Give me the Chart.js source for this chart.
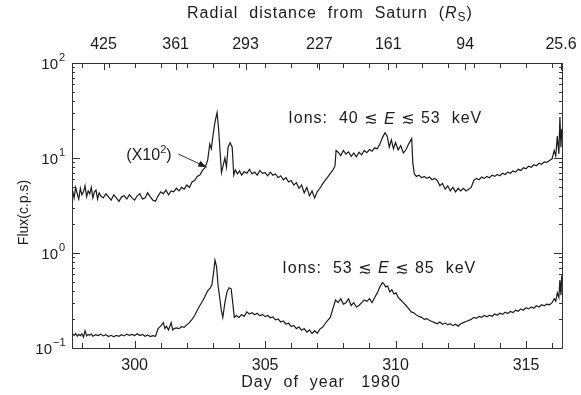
<!DOCTYPE html>
<html>
<head>
<meta charset="utf-8">
<script src="https://cdn.jsdelivr.net/npm/chart.js@4/dist/chart.umd.min.js"></script>
<style>
  body { margin: 0; background: #fff; }
  #wrap { width: 581px; height: 395px; }
</style>
</head>
<body>
<div id="wrap"><canvas id="flux" width="581" height="395"></canvas></div>
<script>
// Voyager ion flux, day of year 1980 (upper trace already multiplied by 100)
var upperDays = [
  297.62, 297.68, 297.74, 297.80, 297.86, 297.92, 297.98, 298.04, 298.10, 298.16,
  298.22, 298.28, 298.34, 298.40, 298.46, 298.52, 298.58, 298.64, 298.70, 298.80,
  298.90, 299.00, 299.10, 299.20, 299.30, 299.40, 299.50, 299.60, 299.70, 299.80,
  299.90, 300.00, 300.10, 300.20, 300.30, 300.40, 300.50, 300.60, 300.70, 300.80,
  300.90, 301.00, 301.10, 301.20, 301.30, 301.40, 301.50, 301.60, 301.70, 301.80,
  301.90, 302.00, 302.10, 302.20, 302.30, 302.40, 302.50, 302.60, 302.70, 302.80,
  302.88, 302.94, 303.00, 303.08, 303.16, 303.22, 303.28, 303.33, 303.40, 303.46,
  303.52, 303.58, 303.66, 303.74, 303.80, 303.86, 303.94, 304.02, 304.10, 304.20,
  304.30, 304.40, 304.50, 304.60, 304.70, 304.80, 304.90, 305.00, 305.10, 305.20,
  305.30, 305.40, 305.50, 305.60, 305.70, 305.80, 305.90, 306.00, 306.10, 306.20,
  306.30, 306.40, 306.50, 306.60, 306.70, 306.80, 306.90, 307.00, 307.10, 307.20,
  307.30, 307.40, 307.50, 307.60, 307.68, 307.72, 307.80, 307.90, 308.00, 308.10,
  308.20, 308.30, 308.40, 308.50, 308.60, 308.70, 308.80, 308.90, 309.00, 309.10,
  309.20, 309.30, 309.40, 309.50, 309.60, 309.68, 309.76, 309.84, 309.92, 310.00,
  310.10, 310.20, 310.30, 310.40, 310.50, 310.62, 310.66, 310.72, 310.80, 310.90,
  311.00, 311.10, 311.20, 311.30, 311.40, 311.50, 311.60, 311.70, 311.80, 311.90,
  312.00, 312.10, 312.20, 312.30, 312.40, 312.50, 312.60, 312.70, 312.80, 312.90,
  313.00, 313.10, 313.20, 313.30, 313.40, 313.50, 313.60, 313.70, 313.80, 313.90,
  314.00, 314.10, 314.20, 314.30, 314.40, 314.50, 314.60, 314.70, 314.80, 314.90,
  315.00, 315.10, 315.20, 315.30, 315.40, 315.50, 315.60, 315.70, 315.80, 315.90,
  316.00, 316.08, 316.14, 316.20, 316.26, 316.30, 316.34, 316.37
];
var upperFlux = [
  4.6, 3.8, 4.9, 4.2, 3.7, 4.8, 4.1, 4.4, 5.1, 3.9,
  4.5, 4.2, 4.9, 3.8, 4.4, 4.6, 3.7, 4.3, 4.0, 3.8,
  4.2, 3.9, 3.6, 4.1, 3.8, 3.5, 3.9, 4.0, 3.7, 4.1,
  3.8, 3.6, 4.0, 4.2, 3.7, 3.8, 4.3, 3.9, 3.6, 3.5,
  4.0, 4.4, 4.2, 4.6, 4.1, 4.5, 4.4, 4.8, 4.5, 4.9,
  4.7, 5.2, 4.9, 5.6, 5.8, 6.4, 6.6, 7.4, 7.9, 9.5,
  14, 12.5, 17, 24, 30, 20, 11, 7.0, 8.5, 10,
  8.0, 13, 14.5, 13, 6.6, 7.5, 6.8, 7.3, 6.6, 7.2,
  6.9, 7.6, 6.8, 7.1, 6.6, 7.4, 6.9, 7.0, 6.5, 7.1,
  6.6, 6.8, 6.2, 6.5, 5.9, 6.2, 5.6, 5.8, 5.2, 5.5,
  4.8, 5.2, 4.3, 4.9, 4.0, 4.5, 3.8, 4.4, 4.8, 5.3,
  5.8, 6.3, 6.9, 7.5, 8.2, 12, 11.5, 10.6, 12.0, 11.0,
  11.6, 10.4, 11.3, 10.3, 11.5, 10.8, 12.0, 11.4, 12.3, 11.8,
  12.8, 12.5, 14.0, 16.5, 18.5, 17, 13, 15.5, 12.5, 14.5,
  12.2, 13.5, 11.3, 12.2, 14.0, 16.0, 9.0, 6.8, 6.4, 6.6,
  6.2, 6.4, 6.1, 6.3, 5.9, 6.1, 5.8, 5.1, 5.4, 4.7,
  5.1, 4.5, 4.9, 4.4, 4.8, 4.5, 4.8, 4.5, 4.7, 4.9,
  5.8, 6.1, 5.9, 6.3, 6.1, 6.4, 6.2, 6.6, 6.4, 6.7,
  6.5, 6.9, 6.7, 7.1, 6.9, 7.3, 7.1, 7.6, 7.4, 7.9,
  7.7, 8.2, 8.0, 8.5, 8.3, 8.8, 8.6, 9.1, 9.0, 9.4,
  9.8, 12, 10.5, 17, 11, 27, 13, 20
];

var lowerDays = [
  297.62, 297.68, 297.74, 297.80, 297.86, 297.92, 297.98, 298.04, 298.10, 298.16,
  298.22, 298.28, 298.34, 298.40, 298.50, 298.60, 298.70, 298.80, 298.90, 299.00,
  299.10, 299.20, 299.30, 299.40, 299.50, 299.60, 299.70, 299.80, 299.90, 300.00,
  300.10, 300.20, 300.30, 300.40, 300.50, 300.60, 300.70, 300.80, 300.90, 301.00,
  301.10, 301.16, 301.22, 301.30, 301.40, 301.46, 301.52, 301.60, 301.70, 301.80,
  301.90, 302.00, 302.10, 302.20, 302.30, 302.40, 302.50, 302.60, 302.70, 302.80,
  302.90, 302.96, 303.02, 303.08, 303.14, 303.20, 303.26, 303.32, 303.38, 303.46,
  303.54, 303.62, 303.70, 303.76, 303.82, 303.90, 304.00, 304.10, 304.20, 304.30,
  304.40, 304.50, 304.60, 304.70, 304.80, 304.90, 305.00, 305.10, 305.20, 305.30,
  305.40, 305.50, 305.60, 305.70, 305.80, 305.90, 306.00, 306.10, 306.20, 306.30,
  306.40, 306.50, 306.60, 306.70, 306.80, 306.90, 307.00, 307.10, 307.20, 307.30,
  307.40, 307.50, 307.60, 307.70, 307.80, 307.90, 308.00, 308.10, 308.20, 308.30,
  308.40, 308.50, 308.60, 308.70, 308.80, 308.90, 309.00, 309.10, 309.20, 309.30,
  309.40, 309.50, 309.56, 309.62, 309.70, 309.78, 309.86, 309.94, 310.02, 310.10,
  310.20, 310.30, 310.40, 310.50, 310.60, 310.70, 310.80, 310.90, 311.00, 311.10,
  311.20, 311.30, 311.40, 311.50, 311.60, 311.70, 311.80, 311.90, 312.00, 312.10,
  312.20, 312.30, 312.40, 312.50, 312.60, 312.70, 312.80, 312.90, 313.00, 313.10,
  313.20, 313.30, 313.40, 313.50, 313.60, 313.70, 313.80, 313.90, 314.00, 314.10,
  314.20, 314.30, 314.40, 314.50, 314.60, 314.70, 314.80, 314.90, 315.00, 315.10,
  315.20, 315.30, 315.40, 315.50, 315.60, 315.70, 315.80, 315.90, 316.00, 316.08,
  316.14, 316.20, 316.26, 316.30, 316.34, 316.37
];
var lowerFlux = [
  0.14, 0.136, 0.142, 0.133, 0.139, 0.135, 0.141, 0.13, 0.152, 0.134,
  0.139, 0.136, 0.141, 0.133, 0.138, 0.135, 0.14, 0.134, 0.138, 0.132,
  0.136, 0.131, 0.136, 0.133, 0.138, 0.134, 0.14, 0.136, 0.139, 0.135,
  0.141, 0.135, 0.139, 0.133, 0.137, 0.132, 0.135, 0.133, 0.16, 0.17,
  0.185, 0.16, 0.17, 0.155, 0.185, 0.155, 0.16, 0.163, 0.16, 0.168,
  0.165, 0.175, 0.185, 0.2, 0.22, 0.25, 0.28, 0.31, 0.35, 0.4,
  0.43, 0.46, 0.6, 0.84, 0.72, 0.45, 0.34, 0.25, 0.21, 0.3,
  0.39, 0.43, 0.42, 0.3, 0.21, 0.22, 0.21, 0.225, 0.215, 0.24,
  0.228, 0.235, 0.224, 0.232, 0.218, 0.226, 0.214, 0.22, 0.208, 0.212,
  0.198, 0.202, 0.188, 0.193, 0.178, 0.183, 0.168, 0.173, 0.16, 0.166,
  0.154, 0.16, 0.147, 0.155, 0.142, 0.152, 0.143, 0.158, 0.165, 0.18,
  0.195, 0.21, 0.26, 0.32, 0.3, 0.33, 0.29, 0.3, 0.33, 0.28,
  0.3, 0.27, 0.28, 0.3, 0.32, 0.31, 0.33, 0.3, 0.34, 0.38,
  0.44, 0.49, 0.47, 0.44, 0.45, 0.39, 0.41, 0.37, 0.38, 0.34,
  0.32, 0.3, 0.28, 0.26, 0.24, 0.235, 0.222, 0.215, 0.21, 0.2,
  0.204, 0.195, 0.19, 0.185, 0.18, 0.188, 0.178, 0.183, 0.175, 0.18,
  0.172, 0.178, 0.17, 0.18, 0.185, 0.19, 0.195, 0.2, 0.21, 0.205,
  0.215, 0.21, 0.22, 0.213, 0.222, 0.216, 0.228, 0.221, 0.232, 0.226,
  0.238, 0.231, 0.242, 0.236, 0.25, 0.244, 0.258, 0.25, 0.265, 0.258,
  0.27, 0.262, 0.278, 0.27, 0.285, 0.278, 0.29, 0.285, 0.3, 0.33,
  0.31, 0.38, 0.34, 0.52, 0.36, 0.58
];

var dayMin = 297.6, dayMax = 316.38;
var bottomTickDays = [298, 299, 300, 301, 302, 303, 304, 305, 306, 307, 308, 309, 310, 311, 312, 313, 314, 315, 316];
var bottomLabelDays = [300, 305, 310, 315];
var topTickDays = [298.81, 301.57, 304.25, 307.08, 309.72, 312.67, 316.34];
var topTickLabels = ['425', '361', '293', '227', '161', '94', '25.6'];
var fluxTicks = [0.1, 1, 10, 100];
var fluxExponents = ['\u22121', '0', '1', '2'];

var FONT = '"Liberation Sans", Arial, "DejaVu Sans", sans-serif';
var INK = '#1c1c1c';

function toPoints( days, flux )
{
    return days.map( function( d, i ) { return { x: d, y: flux[ i ] }; } );
}

// draws a row of text pieces, each with its own font, starting at x
function drawRuns( ctx, x, y, runs )
{
    ctx.textAlign = 'left';
    runs.forEach( function( r ) {
        ctx.font = r.font;
        ctx.fillText( r.text, x, y + ( r.dy || 0 ) );
        x += ctx.measureText( r.text ).width;
    } );
    return x;
}

function runsWidth( ctx, runs )
{
    var w = 0;
    runs.forEach( function( r ) { ctx.font = r.font; w += ctx.measureText( r.text ).width; } );
    return w;
}

var frame = {
    id: 'frame',
    afterDraw: function( chart )
    {
        var ctx = chart.ctx, a = chart.chartArea;
        var xs = chart.scales.x, ys = chart.scales.y;
        ctx.save();
        ctx.strokeStyle = '#333';
        ctx.lineWidth = 1;

        // right border
        ctx.beginPath();
        ctx.moveTo( a.right + 0.5, a.top );
        ctx.lineTo( a.right + 0.5, a.bottom );
        ctx.stroke();

        // inward ticks, bottom and top
        ctx.beginPath();
        bottomTickDays.forEach( function( d ) {
            var px = Math.round( xs.getPixelForValue( d ) ) + 0.5;
            var len = bottomLabelDays.indexOf( d ) >= 0 ? 7 : 5;
            ctx.moveTo( px, a.bottom ); ctx.lineTo( px, a.bottom - len );
            ctx.moveTo( px, a.top ); ctx.lineTo( px, a.top + 5 );
        } );
        topTickDays.forEach( function( d ) {
            var px = Math.round( xs.getPixelForValue( d ) ) + 0.5;
            ctx.moveTo( px, a.top ); ctx.lineTo( px, a.top + 7 );
        } );

        // log ticks, left and right
        fluxTicks.forEach( function( v, k ) {
            var py = Math.round( ys.getPixelForValue( v ) ) + 0.5;
            ctx.moveTo( a.left, py ); ctx.lineTo( a.left + 8, py );
            ctx.moveTo( a.right, py ); ctx.lineTo( a.right - 8, py );
            if ( k === fluxTicks.length - 1 ) return;
            for ( var m = 2; m <= 9; m++ ) {
                var my = Math.round( ys.getPixelForValue( v * m ) ) + 0.5;
                ctx.moveTo( a.left, my ); ctx.lineTo( a.left + 3, my );
                ctx.moveTo( a.right, my ); ctx.lineTo( a.right - 3, my );
            }
        } );
        ctx.stroke();

        ctx.fillStyle = INK;
        ctx.textBaseline = 'middle';

        // y tick labels as 10 with a raised exponent
        fluxTicks.forEach( function( v, k ) {
            var py = ys.getPixelForValue( v ) + 2;
            ctx.font = '15px ' + FONT;
            ctx.textAlign = 'right';
            var baseRight = a.left - ( k === 0 ? 20 : 14 );
            ctx.fillText( '10', baseRight, py );
            ctx.textAlign = 'left';
            ctx.font = '11px ' + FONT;
            ctx.fillText( fluxExponents[ k ], baseRight + 1, py - 7 );
        } );

        // y axis title
        ctx.save();
        ctx.translate( 24, ( a.top + a.bottom ) / 2 + 7 );
        ctx.rotate( -Math.PI / 2 );
        ctx.textAlign = 'center';
        ctx.font = '14px ' + FONT;
        ctx.fillText( 'Flux(c.p.s)', 0, 0 );
        ctx.restore();

        // x axis titles, spaced out like the print
        ctx.letterSpacing = '1px';
        ctx.textAlign = 'center';
        ctx.font = '16px ' + FONT;
        ctx.fillText( 'Day  of  year   1980', 321, 383 );

        var topRuns = [
            { text: 'Radial  distance  from  Saturn  (', font: '16px ' + FONT },
            { text: 'R', font: 'italic 16px ' + FONT },
            { text: 'S', font: '12px ' + FONT, dy: 4 },
            { text: ')', font: '16px ' + FONT }
        ];
        drawRuns( ctx, 330 - runsWidth( ctx, topRuns ) / 2, 14, topRuns );

        // curve labels, anchored in data units
        var normal = '16px ' + FONT, ital = 'italic 16px ' + FONT;
        function ionLabel( day, flux, lo, hi )
        {
            var x = xs.getPixelForValue( day ), y = ys.getPixelForValue( flux );
            drawRuns( ctx, x, y, [
                { text: 'Ions:  ' + lo + ' ', font: normal },
                { text: '\u2272', font: normal },
                { text: ' E ', font: ital },
                { text: '\u2272', font: normal },
                { text: ' ' + hi + '  keV', font: normal }
            ] );
        }
        ionLabel( 305.89, 25.7, '40', '53' );
        ionLabel( 305.66, 0.68, '53', '85' );
        ctx.letterSpacing = '0px';

        // (X10^2) marker with arrow onto the upper trace
        var tx = xs.getPixelForValue( 300.55 ), ty = ys.getPixelForValue( 10.5 );
        var markRuns = [
            { text: '(X10', font: normal },
            { text: '2', font: '11px ' + FONT, dy: -6 },
            { text: ')', font: normal }
        ];
        drawRuns( ctx, tx - runsWidth( ctx, markRuns ) / 2, ty, markRuns );

        var ax0 = xs.getPixelForValue( 301.68 ), ay0 = ys.getPixelForValue( 11.0 );
        var ax1 = xs.getPixelForValue( 302.76 ), ay1 = ys.getPixelForValue( 8.0 );
        ctx.beginPath();
        ctx.moveTo( ax0, ay0 ); ctx.lineTo( ax1, ay1 );
        ctx.stroke();
        var ang = Math.atan2( ay1 - ay0, ax1 - ax0 );
        ctx.beginPath();
        ctx.moveTo( ax1, ay1 );
        ctx.lineTo( ax1 - 9 * Math.cos( ang - 0.35 ), ay1 - 9 * Math.sin( ang - 0.35 ) );
        ctx.lineTo( ax1 - 9 * Math.cos( ang + 0.35 ), ay1 - 9 * Math.sin( ang + 0.35 ) );
        ctx.closePath();
        ctx.fill();

        ctx.restore();
    }
};

var lineStyle = { borderColor: INK, borderWidth: 1.2, pointRadius: 0, tension: 0, fill: false };

var ctx = document.getElementById( 'flux' ).getContext( '2d' );
var chart = new Chart( ctx, {
    type: 'line',
    data: {
        datasets: [
            Object.assign( { label: 'Ions 40-53 keV (x100)', data: toPoints( upperDays, upperFlux ) }, lineStyle ),
            Object.assign( { label: 'Ions 53-85 keV', data: toPoints( lowerDays, lowerFlux ) }, lineStyle )
        ]
    },
    options: {
        responsive: false,
        animation: false,
        layout: { padding: { left: 0, right: 19, top: 0, bottom: 0 } },
        plugins: { legend: { display: false }, tooltip: { enabled: false } },
        scales: {
            x: {
                type: 'linear', position: 'bottom', min: dayMin, max: dayMax,
                afterBuildTicks: function( s ) { s.ticks = bottomTickDays.map( function( v ) { return { value: v }; } ); },
                afterFit: function( s ) { s.height = 47; },
                grid: { display: false },
                border: { display: true, color: '#333', width: 1 },
                ticks: {
                    autoSkip: false, maxRotation: 0, padding: 0, color: INK,
                    font: { family: FONT, size: 16 },
                    callback: function( v ) { return bottomLabelDays.indexOf( v ) >= 0 ? String( v ) : ''; }
                }
            },
            x2: {
                type: 'linear', position: 'top', min: dayMin, max: dayMax,
                afterBuildTicks: function( s ) { s.ticks = topTickDays.map( function( v ) { return { value: v }; } ); },
                afterFit: function( s ) { s.height = 63; },
                grid: { display: false },
                border: { display: true, color: '#333', width: 1 },
                ticks: {
                    autoSkip: false, maxRotation: 0, padding: 1, color: INK,
                    font: { family: FONT, size: 16 },
                    callback: function( v, i ) { return topTickLabels[ i ]; }
                }
            },
            y: {
                type: 'logarithmic', position: 'left', min: 0.1, max: 100,
                afterBuildTicks: function( s ) { s.ticks = fluxTicks.map( function( v ) { return { value: v }; } ); },
                afterFit: function( s ) { s.width = 72; },
                grid: { display: false },
                border: { display: true, color: '#333', width: 1 },
                ticks: { display: false }
            }
        }
    },
    plugins: [ frame ]
} );
</script>
</body>
</html>
